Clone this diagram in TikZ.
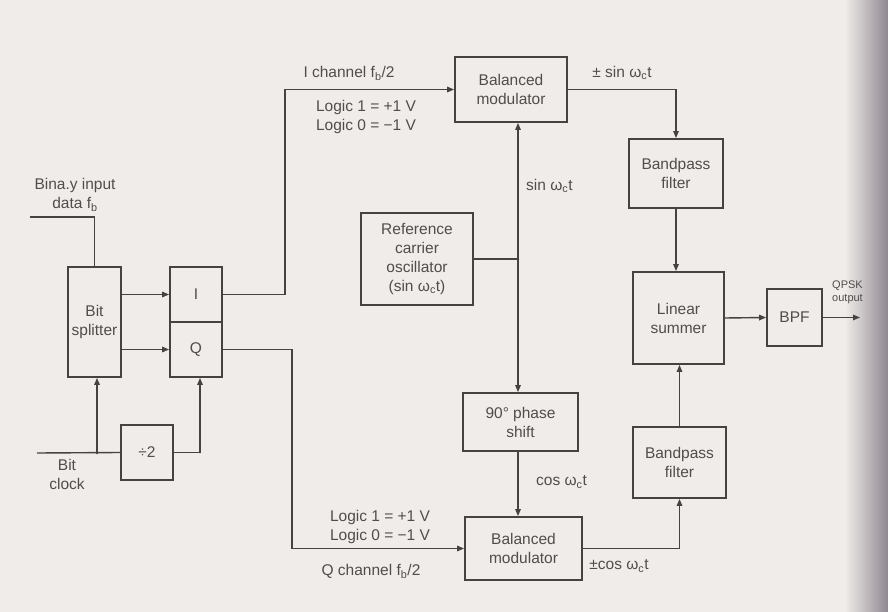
\documentclass[tikz,border=0pt]{standalone}
\usepackage{fontspec}
\setmainfont{Liberation Sans}
\usetikzlibrary{arrows.meta,calc}
\definecolor{bg}{HTML}{F0ECE9}
\definecolor{ink}{HTML}{444242}
\definecolor{txt}{HTML}{4F4D4D}
\definecolor{edge}{HTML}{8F8891}
\tikzset{
  blk/.style={draw=ink,line width=1.8pt,fill=bg,text=txt,align=center,inner sep=2pt,
    font=\fontsize{15.5}{19}\selectfont},
  lbl/.style={text=txt,align=center,inner sep=0pt,font=\fontsize{15.5}{19}\selectfont},
  wire/.style={draw=ink,line width=1.4pt},
  arr/.style={wire,-{Triangle[length=7pt,width=5.5pt]}}
}
\begin{document}
\begin{tikzpicture}[x=1pt,y=-1pt]
\fill[bg] (0,0) rectangle (888,612);
\shade[left color=bg,right color=edge] (845,0) rectangle (888,612);
\useasboundingbox (0,0) rectangle (888,612);

% blocks
\node[blk,minimum width=53pt,minimum height=110pt] (split) at (94.5,322) {Bit\\splitter};
\node[blk,minimum width=52pt,minimum height=55pt] (I) at (196,294.5) {I};
\node[blk,minimum width=52pt,minimum height=55pt] (Q) at (196,349.5) {Q};
\node[blk,minimum width=52pt,minimum height=55pt] (div) at (147,452.5) {÷2};
\node[blk,minimum width=112pt,minimum height=65pt] (bm1) at (511,89.5) {Balanced\\modulator};
\node[blk,minimum width=112pt,minimum height=92pt] (ref) at (417,259) {Reference\\carrier\\oscillator\\(sin ω\textsubscript{c}t)};
\node[blk,minimum width=115pt,minimum height=58pt] (ps) at (520.5,422) {90° phase\\shift};
\node[blk,minimum width=117pt,minimum height=63pt] (bm2) at (523.5,548.5) {Balanced\\modulator};
\node[blk,minimum width=94pt,minimum height=69pt] (bpf1) at (676,173.5) {Bandpass\\filter};
\node[blk,minimum width=91pt,minimum height=92pt] (sum) at (678.5,318) {Linear\\summer};
\node[blk,minimum width=93pt,minimum height=71pt] (bpf2) at (679.5,462.5) {Bandpass\\filter};
\node[blk,minimum width=55pt,minimum height=57pt] (bpf) at (794.5,317.5) {BPF};

% coordinates
\coordinate (inp) at (30,217);
\coordinate (clk) at (37,453);
\coordinate (cj) at (97,453);
\coordinate (dq) at (200,453);
\coordinate (ic) at (285,0);
\coordinate (qc) at (292,0);
\coordinate (j) at (518,259);
\coordinate (out) at (860,317.5);

% left part
\draw[wire] (inp) -| (split.north);
\draw[wire] (clk) -- (div.west);
\fill[ink] (cj) circle (1.3pt);
\draw[arr] (cj) -- (cj |- split.south);
\draw[arr] (div.east) -| (dq) -- (dq |- Q.south);
\draw[arr] (split.east |- I.west) -- (I.west);
\draw[arr] (split.east |- Q.west) -- (Q.west);

% I / Q channels
\draw[arr] (I.east) -- (I.east -| ic) -- (ic |- bm1.west) -- (bm1.west);
\draw[arr] (Q.east) -- (Q.east -| qc) -- (qc |- bm2.west) -- (bm2.west);

% carrier
\draw[wire] (ref.east) -- (j);
\fill[ink] (j) circle (1.3pt);
\draw[arr] (j) -- (j |- bm1.south);
\draw[arr] (j) -- (j |- ps.north);
\draw[arr] (j |- ps.south) -- (j |- bm2.north);

% right part
\draw[arr] (bm1.east) -| (bpf1.north);
\draw[arr] (bpf1.south) -- (bpf1.south |- sum.north);
\draw[arr] (bm2.east) -| (bpf2.south);
\draw[arr] (bpf2.north) -- (bpf2.north |- sum.south);
\draw[arr] (sum.east) -- (bpf.west);
\draw[arr] (bpf.east) -- (out);

% labels
\node[lbl] (linp) at (75,195) {Bina.y input\\data f\textsubscript{b}};
\node[lbl] (lclk) at (67,474) {Bit\\clock};
\node[lbl] (lich) at (349,73) {I channel f\textsubscript{b}/2};
\node[lbl] (lilog) at (366,117) {Logic 1 = +1 V\\Logic 0 = −1 V};
\node[lbl] (lqlog) at (380,527) {Logic 1 = +1 V\\Logic 0 = −1 V};
\node[lbl] (lqch) at (371,571) {Q channel f\textsubscript{b}/2};
\node[lbl,anchor=west] (lsin) at (526,186) {sin ω\textsubscript{c}t};
\node[lbl,anchor=west] (lcos) at (536,482) {cos ω\textsubscript{c}t};
\node[lbl] (lpsin) at (622,73) {± sin ω\textsubscript{c}t};
\node[lbl] (lpcos) at (619,566) {±cos ω\textsubscript{c}t};
\node[lbl,anchor=west,font=\fontsize{11}{13}\selectfont] (lout) at (832,292) {QPSK\\output};
\end{tikzpicture}
\end{document}
